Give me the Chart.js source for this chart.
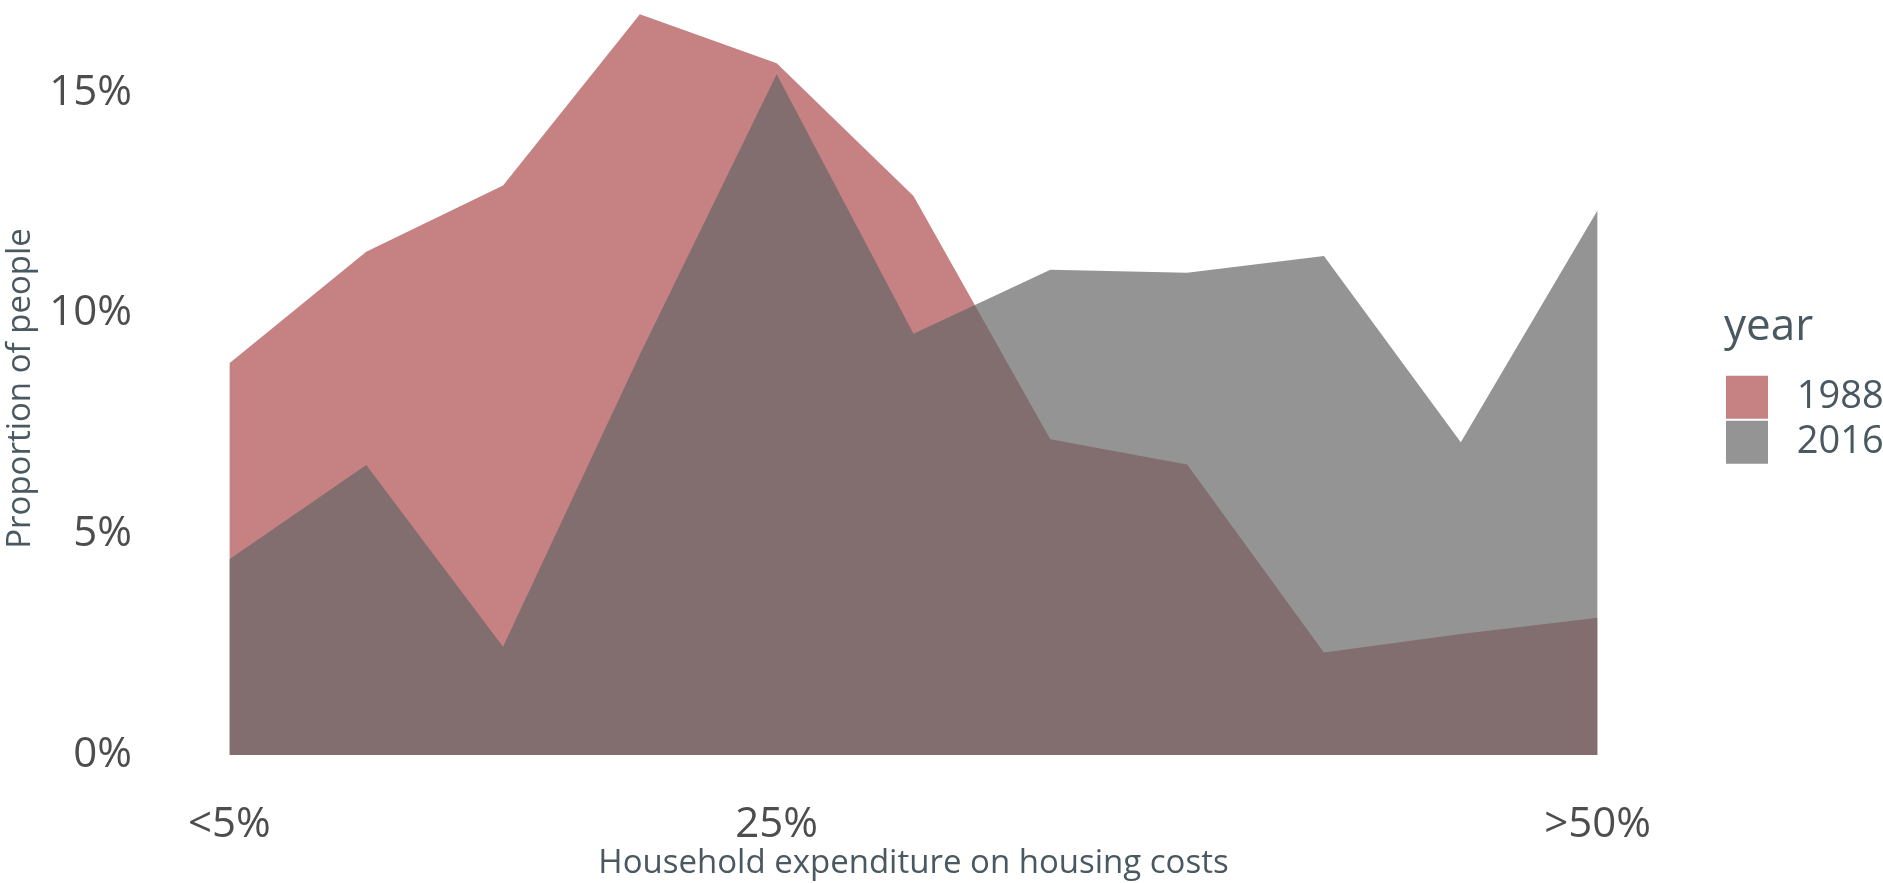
<!DOCTYPE html>
<html>
<head>
<meta charset="utf-8">
<title>Household expenditure on housing costs</title>
<script src="https://cdn.jsdelivr.net/npm/chart.js@4.4.1/dist/chart.umd.min.js"></script>
<style>
  html, body { margin: 0; padding: 0; background: #fff; }
  #wrap { width: 1883px; height: 883px; }
</style>
</head>
<body>
<div id="wrap"><canvas id="chart"></canvas></div>
<script>
// x categories, only three of them carry a tick label
const xTicks = ['<5%', '', '', '', '25%', '', '', '', '', '', '>50%'];
const yTicks = [0, 5, 10, 15];

// proportion of people (%) in each expenditure bin
const year1988 = [8.87, 11.40, 12.90, 16.78, 15.67, 12.66, 7.15, 6.58, 2.32, 2.74, 3.11];
const year2016 = [4.43, 6.57, 2.45, 9.07, 15.42, 9.54, 10.99, 10.92, 11.30, 7.08, 12.34];

const fontFamily = '"Open Sans", "Noto Sans", sans-serif';
const tickColor = '#4d4d4d';
const titleColor = '#4a5961';

// keep the legend in a fixed column at the right edge
const legendWidth = {
  id: 'legendWidth',
  afterInit(chart) {
    const legend = chart.legend;
    const fit = legend.fit;
    legend.fit = function() {
      fit.call(this);
      this.width = 159;
    };
  }
};

function noEdgePadding(scale) {
  scale.paddingTop = 0;
  scale.paddingBottom = 0;
  scale.paddingLeft = 0;
  scale.paddingRight = 0;
}

const ctx = document.getElementById('chart').getContext('2d');

new Chart(ctx, {
  type: 'line',
  data: {
    labels: xTicks,
    datasets: [
      {
        label: '1988',
        data: year1988,
        backgroundColor: 'rgba(174, 75, 79, 0.7)',
        borderWidth: 0,
        pointRadius: 0,
        fill: 'origin',
        order: 1
      },
      {
        label: '2016',
        data: year2016,
        backgroundColor: 'rgba(102, 102, 102, 0.7)',
        borderWidth: 0,
        pointRadius: 0,
        fill: 'origin',
        order: 0
      }
    ]
  },
  options: {
    responsive: true,
    maintainAspectRatio: false,
    animation: false,
    layout: { padding: 0 },
    plugins: {
      tooltip: { enabled: false },
      legend: {
        position: 'right',
        align: 'start',
        title: {
          display: true,
          text: 'year',
          position: 'start',
          color: titleColor,
          font: { family: fontFamily, size: 44 },
          padding: { top: 305, bottom: 16 }
        },
        labels: {
          boxWidth: 42,
          boxHeight: 43,
          padding: 2,
          color: titleColor,
          font: { family: fontFamily, size: 38 },
          sort: (a, b) => a.datasetIndex - b.datasetIndex,
          generateLabels(chart) {
            const items = Chart.defaults.plugins.legend.labels.generateLabels(chart);
            items.forEach(item => { item.text = ' ' + item.text; item.lineWidth = 0; });
            return items;
          }
        }
      }
    },
    scales: {
      x: {
        offset: true,
        grid: { display: false },
        border: { display: false },
        ticks: {
          autoSkip: false,
          maxRotation: 0,
          color: tickColor,
          font: { family: fontFamily, size: 42 },
          padding: 15
        },
        title: {
          display: true,
          text: 'Household expenditure on housing costs',
          color: titleColor,
          font: { family: fontFamily, size: 33 },
          padding: { top: 0, bottom: 0 }
        },
        afterFit(scale) {
          scale.height = 106;
          noEdgePadding(scale);
        }
      },
      y: {
        min: -0.5,
        max: 17.1,
        grid: { display: false },
        border: { display: false },
        afterBuildTicks(scale) {
          scale.ticks = yTicks.map(v => ({ value: v }));
        },
        ticks: {
          callback: v => v + '%',
          color: tickColor,
          font: { family: fontFamily, size: 42 },
          padding: 21
        },
        title: {
          display: true,
          text: 'Proportion of people',
          color: titleColor,
          font: { family: fontFamily, size: 33 },
          padding: { top: 1, bottom: 0 }
        },
        afterFit(scale) {
          scale.width = 161;
          noEdgePadding(scale);
        }
      },
      spacer: {
        type: 'linear',
        position: 'right',
        grid: { display: false },
        border: { display: false },
        ticks: { display: false },
        afterFit(scale) {
          scale.width = 58;
          noEdgePadding(scale);
        }
      }
    }
  },
  plugins: [legendWidth]
});
</script>
</body>
</html>
